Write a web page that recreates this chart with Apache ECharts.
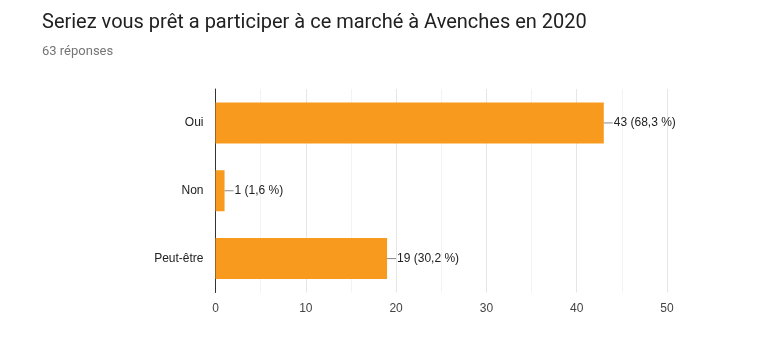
<!DOCTYPE html>
<html>
<head>
<meta charset="utf-8">
<script src="https://cdn.jsdelivr.net/npm/echarts@6/dist/echarts.min.js"></script>
<style>
  html, body { margin: 0; padding: 0; background: #fff; }
  #chart { width: 766px; height: 345px; }
</style>
</head>
<body>
<div id="chart"></div>
<script>
// Survey answers and counts
const categories = ['Oui', 'Non', 'Peut-être'];
const counts = [43, 1, 19];
const percents = ['68,3', '1,6', '30,2'];
const xTicks = [0, 10, 20, 30, 40, 50];

const chart = echarts.init(document.getElementById('chart'));

chart.setOption({
  animation: false,
  textStyle: { fontFamily: 'Roboto, Arial, sans-serif' },
  title: [
    {
      text: 'Seriez vous prêt a participer à ce marché à Avenches en 2020',
      left: 37, top: 8,
      textStyle: { fontSize: 20, fontWeight: 'normal', color: '#212121', fontFamily: 'Roboto, sans-serif' }
    },
    {
      text: '63 réponses',
      left: 37, top: 40,
      textStyle: { fontSize: 13, fontWeight: 'normal', color: '#757575', fontFamily: 'Roboto, sans-serif' }
    }
  ],
  grid: { left: 215.5, right: 99, top: 89, bottom: 52.5 },
  xAxis: {
    type: 'value',
    min: xTicks[0], max: xTicks[xTicks.length - 1], interval: 10,
    axisLine: { show: false },
    axisTick: { show: false },
    axisLabel: { color: '#444', fontSize: 12, margin: 10, fontFamily: 'Arial, sans-serif' },
    splitLine: { show: true, lineStyle: { color: '#e6e6e6', width: 1 } },
    minorTick: { show: false, splitNumber: 2 },
    minorSplitLine: { show: true, lineStyle: { color: '#f3f3f3', width: 1 } }
  },
  yAxis: {
    type: 'category',
    data: categories,
    inverse: true,
    axisLine: { show: true, onZero: false, lineStyle: { color: '#333', width: 1 } },
    axisTick: { show: false },
    axisLabel: { color: '#222', fontSize: 12, margin: 12, fontFamily: 'Arial, sans-serif' },
    splitLine: { show: false }
  },
  series: [{
    type: 'bar',
    data: counts,
    barWidth: 41,
    itemStyle: { color: '#f89a1e' },
    label: {
      show: true,
      position: 'right',
      distance: 0,
      formatter: (p) => '{l|}{t|' + counts[p.dataIndex] + ' (' + percents[p.dataIndex] + ' %)}',
      rich: {
        l: { width: 9, height: 1, backgroundColor: '#888', padding: 0 },
        t: { color: '#222', fontSize: 12, padding: [0, 0, 0, 1], fontFamily: 'Arial, sans-serif' }
      }
    }
  }]
});
</script>
</body>
</html>
